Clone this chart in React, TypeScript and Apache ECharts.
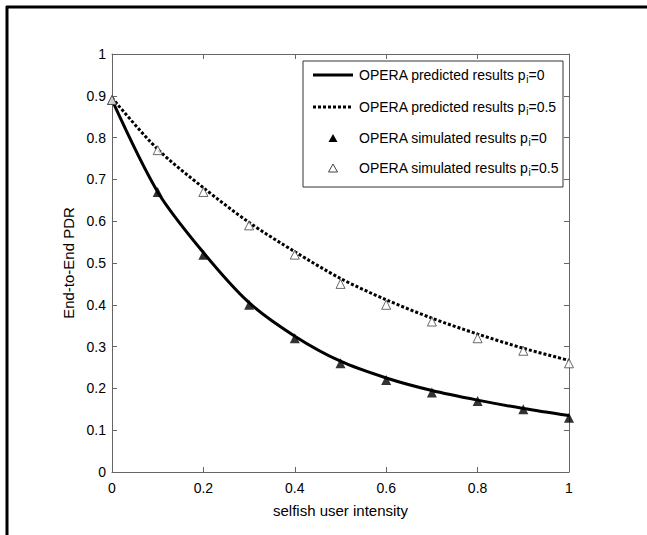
import React, { useEffect, useRef } from "react";
import * as echarts from "echarts";

const xValues = [0, 0.1, 0.2, 0.3, 0.4, 0.5, 0.6, 0.7, 0.8, 0.9, 1.0];
const predictedP0 = [0.89, 0.67, 0.525, 0.405, 0.325, 0.265, 0.225, 0.195, 0.172, 0.152, 0.135];
const predictedP05 = [0.895, 0.772, 0.68, 0.597, 0.527, 0.463, 0.412, 0.368, 0.33, 0.296, 0.267];
const simulatedP0 = [0.89, 0.67, 0.52, 0.4, 0.32, 0.26, 0.22, 0.19, 0.17, 0.15, 0.13];
const simulatedP05 = [0.89, 0.77, 0.67, 0.59, 0.52, 0.45, 0.4, 0.36, 0.32, 0.29, 0.26];
const seriesNames = [
  "OPERA predicted results pi=0",
  "OPERA predicted results pi=0.5",
  "OPERA simulated results pi=0",
  "OPERA simulated results pi=0.5",
];
const legendLabels = [
  "OPERA predicted results p{sub|i}=0",
  "OPERA predicted results p{sub|i}=0.5",
  "OPERA simulated results p{sub|i}=0",
  "OPERA simulated results p{sub|i}=0.5",
];

const pairs = (ys: number[]) => xValues.map((x, i) => [x, ys[i]]);

export default function App() {
  const ref = useRef<HTMLDivElement>(null);
  useEffect(() => {
    if (!ref.current) return;
    const chart = echarts.init(ref.current, null, { renderer: "svg" });
    const font = "Liberation Sans, Arial, sans-serif";
    const axisCommon = {
      axisLine: { show: true, onZero: false, lineStyle: { color: "#666", width: 1 } },
      axisTick: { show: true, inside: true, length: 5, lineStyle: { color: "#666" } },
      splitLine: { show: false },
    };

    // legend drawn as graphic
    const lx = 303, ly = 61, lw = 260, lh = 126;
    const rows = [75, 107, 138, 168];
    const legendGraphics: any[] = [
      {
        type: "rect",
        shape: { x: lx, y: ly, width: lw, height: lh },
        style: { fill: "#fff", stroke: "#333", lineWidth: 1 },
        z: 100,
      },
      {
        type: "line",
        shape: { x1: 313, y1: rows[0], x2: 353, y2: rows[0] },
        style: { stroke: "#000", lineWidth: 3 },
        z: 101,
      },
      {
        type: "line",
        shape: { x1: 313, y1: rows[1], x2: 353, y2: rows[1] },
        style: { stroke: "#000", lineWidth: 3, lineDash: [3, 2] },
        z: 101,
      },
      {
        type: "polygon",
        shape: { points: [[333, rows[2] - 4], [337.5, rows[2] + 4], [328.5, rows[2] + 4]] },
        style: { fill: "#000" },
        z: 101,
      },
      {
        type: "polygon",
        shape: { points: [[333, rows[3] - 4], [337.5, rows[3] + 4], [328.5, rows[3] + 4]] },
        style: { fill: "#fff", stroke: "#444", lineWidth: 1 },
        z: 101,
      },
    ];
    rows.forEach((y, i) => {
      legendGraphics.push({
        type: "text",
        x: 359,
        y,
        z: 101,
        style: {
          text: legendLabels[i],
          fontSize: 14,
          fontFamily: font,
          fill: "#000",
          verticalAlign: "middle",
          align: "left",
          rich: {
            sub: { fontSize: 10, fontFamily: font, fill: "#000", padding: [9, 0, 0, 0] },
          },
        },
      });
    });

    chart.setOption({
      animation: false,
      backgroundColor: "#fff",
      textStyle: { fontFamily: font },
      grid: { left: 112, top: 54, right: 78, bottom: 63, containLabel: false },
      xAxis: [
        {
          type: "value",
          min: 0,
          max: 1,
          interval: 0.2,
          position: "bottom",
          name: "selfish user intensity",
          nameLocation: "middle",
          nameGap: 31,
          nameTextStyle: { fontSize: 15, color: "#000", fontFamily: font },
          axisLabel: {
            margin: 9,
            fontSize: 14,
            color: "#000",
            fontFamily: font,
            formatter: (v: number) => String(Math.round(v * 10) / 10),
          },
          ...axisCommon,
        },
        {
          type: "value",
          min: 0,
          max: 1,
          interval: 0.2,
          position: "top",
          axisLabel: { show: false },
          ...axisCommon,
        },
      ],
      yAxis: [
        {
          type: "value",
          min: 0,
          max: 1,
          interval: 0.1,
          position: "left",
          name: "End-to-End PDR",
          nameLocation: "middle",
          nameGap: 26,
          nameTextStyle: { fontSize: 15, color: "#000", fontFamily: font },
          axisLabel: {
            margin: 6,
            fontSize: 14,
            color: "#000",
            fontFamily: font,
            formatter: (v: number) => String(Math.round(v * 10) / 10),
          },
          ...axisCommon,
        },
        {
          type: "value",
          min: 0,
          max: 1,
          interval: 0.1,
          position: "right",
          axisLabel: { show: false },
          ...axisCommon,
        },
      ],
      series: [
        {
          name: seriesNames[0],
          type: "line",
          data: pairs(predictedP0),
          smooth: 0.3,
          symbol: "none",
          lineStyle: { color: "#000", width: 3 },
          z: 2,
        },
        {
          name: seriesNames[1],
          type: "line",
          data: pairs(predictedP05),
          smooth: 0.3,
          symbol: "none",
          lineStyle: { color: "#000", width: 3, type: [3, 2] },
          z: 2,
        },
        {
          name: seriesNames[2],
          type: "scatter",
          data: pairs(simulatedP0),
          symbol: "triangle",
          symbolSize: 10,
          itemStyle: { color: "#000" },
          z: 3,
        },
        {
          name: seriesNames[3],
          type: "scatter",
          data: pairs(simulatedP05),
          symbol: "triangle",
          symbolSize: 9,
          itemStyle: { color: "#fff", borderColor: "#444", borderWidth: 1 },
          z: 3,
        },
      ],
      graphic: [
        {
          type: "line",
          shape: { x1: 6, y1: 7, x2: 647, y2: 7 },
          style: { stroke: "#000", lineWidth: 3 },
        },
        {
          type: "line",
          shape: { x1: 7, y1: 6, x2: 7, y2: 535 },
          style: { stroke: "#000", lineWidth: 3 },
        },
        ...legendGraphics,
      ],
    });
    return () => chart.dispose();
  }, []);
  return (
    <div
      ref={ref}
      style={{ width: 647, height: 535, position: "fixed", left: 0, top: 0, background: "#fff" }}
    />
  );
}
